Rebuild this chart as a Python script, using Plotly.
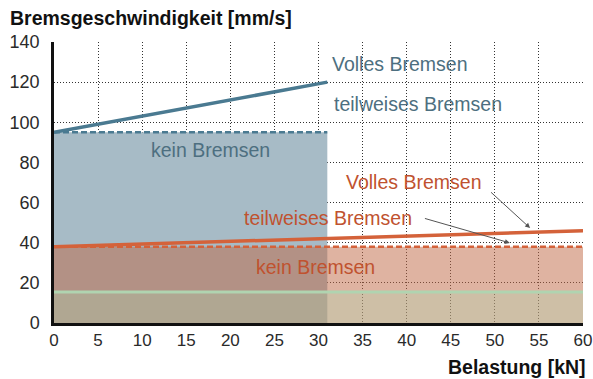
import plotly.graph_objects as go

# Load [kN] and braking speed [mm/s] for each braking mode
blue_x = [0, 31]
blue_full = [95, 120]
blue_partial = [95, 95]

orange_x = [0, 60]
orange_full = [38, 46]
orange_partial = [38, 38]

green_x = [0, 60]
green_none = [15.5, 15.5]

x_ticks = [0, 5, 10, 15, 20, 25, 30, 35, 40, 45, 50, 55, 60]
y_ticks = [0, 20, 40, 60, 80, 100, 120, 140]

BLUE = "#4a7a91"
BLUE_TXT = "#4d6f80"
ORANGE = "#d4623a"
ORANGE_TXT = "#c0522f"
FONT = "Liberation Sans, Arial, sans-serif"

fig = go.Figure()

# filled areas (kein Bremsen)
fig.add_trace(go.Scatter(x=blue_x, y=blue_partial, mode="lines", line=dict(width=0),
                         fill="tozeroy", fillcolor="#a7bbc6", hoverinfo="skip"))
fig.add_trace(go.Scatter(x=orange_x, y=orange_partial, mode="lines", line=dict(width=0),
                         fill="tozeroy", fillcolor="rgba(192,104,68,0.5)", hoverinfo="skip"))
fig.add_trace(go.Scatter(x=green_x, y=green_none, mode="lines", line=dict(width=0),
                         fill="tozeroy", fillcolor="rgba(170,220,180,0.3)", hoverinfo="skip"))

# partial braking (dashed)
fig.add_trace(go.Scatter(x=blue_x, y=blue_partial, mode="lines",
                         line=dict(color=BLUE, width=2.5, dash="6px,3px")))
fig.add_trace(go.Scatter(x=orange_x, y=orange_partial, mode="lines",
                         line=dict(color=ORANGE, width=2.5, dash="6px,3px")))
# green base line
fig.add_trace(go.Scatter(x=green_x, y=green_none, mode="lines",
                         line=dict(color="#b0d4b0", width=3)))
# full braking (solid)
fig.add_trace(go.Scatter(x=blue_x, y=blue_full, mode="lines",
                         line=dict(color=BLUE, width=3.5)))
fig.add_trace(go.Scatter(x=orange_x, y=orange_full, mode="lines",
                         line=dict(color=ORANGE, width=3.5)))

labels = [
    ("Volles Bremsen", 39.2, 129, BLUE_TXT),
    ("teilweises Bremsen", 41.3, 109, BLUE_TXT),
    ("kein Bremsen", 17.7, 86, BLUE_TXT),
    ("Volles Bremsen", 40.8, 70.3, ORANGE_TXT),
    ("teilweises Bremsen", 31.1, 52.3, ORANGE_TXT),
    ("kein Bremsen", 29.7, 27.8, ORANGE_TXT),
]
for text, lx, ly, col in labels:
    fig.add_annotation(x=lx, y=ly, text=text, showarrow=False,
                       font=dict(family=FONT, size=19.5, color=col))

# pointer arrows to the orange lines
for tx, ty, hx, hy in [(49.4, 65.8, 54.0, 47.3), (41.9, 52.3, 51.7, 39.9)]:
    fig.add_annotation(x=hx, y=hy, ax=tx, ay=ty, xref="x", yref="y",
                       axref="x", ayref="y", text="", showarrow=True,
                       arrowhead=2, arrowsize=1, arrowwidth=1, arrowcolor="#555555")

# axis titles
fig.add_annotation(x=-0.087, y=1.0857, xref="paper", yref="paper",
                   text="<b>Bremsgeschwindigkeit [mm/s]</b>", showarrow=False,
                   xanchor="left", yanchor="middle",
                   font=dict(family=FONT, size=19.5, color="#111111"))
fig.add_annotation(x=1.0095, y=-0.157, xref="paper", yref="paper",
                   text="<b>Belastung [kN]</b>", showarrow=False,
                   xanchor="right", yanchor="middle",
                   font=dict(family=FONT, size=19.5, color="#111111"))

grid = dict(showgrid=True, gridcolor="#333333", gridwidth=1, griddash="1px,2px",
            zeroline=False, ticks="", automargin=False)
fig.update_xaxes(range=[0, 60], tickvals=x_ticks, showline=True, linecolor="#111111",
                 linewidth=2.5, tickfont=dict(family=FONT, size=17, color="#2a2a2a"), **grid)
fig.update_yaxes(range=[0, 140], tickvals=y_ticks, showline=True, linecolor="#111111",
                 linewidth=2.5, ticklabelstandoff=8,
                 tickfont=dict(family=FONT, size=18, color="#2a2a2a"), **grid)

fig.update_layout(width=593, height=379, showlegend=False,
                  margin=dict(l=54, r=10, t=42, b=56),
                  plot_bgcolor="white", paper_bgcolor="white",
                  font=dict(family=FONT))

fig.write_html("out.html")
